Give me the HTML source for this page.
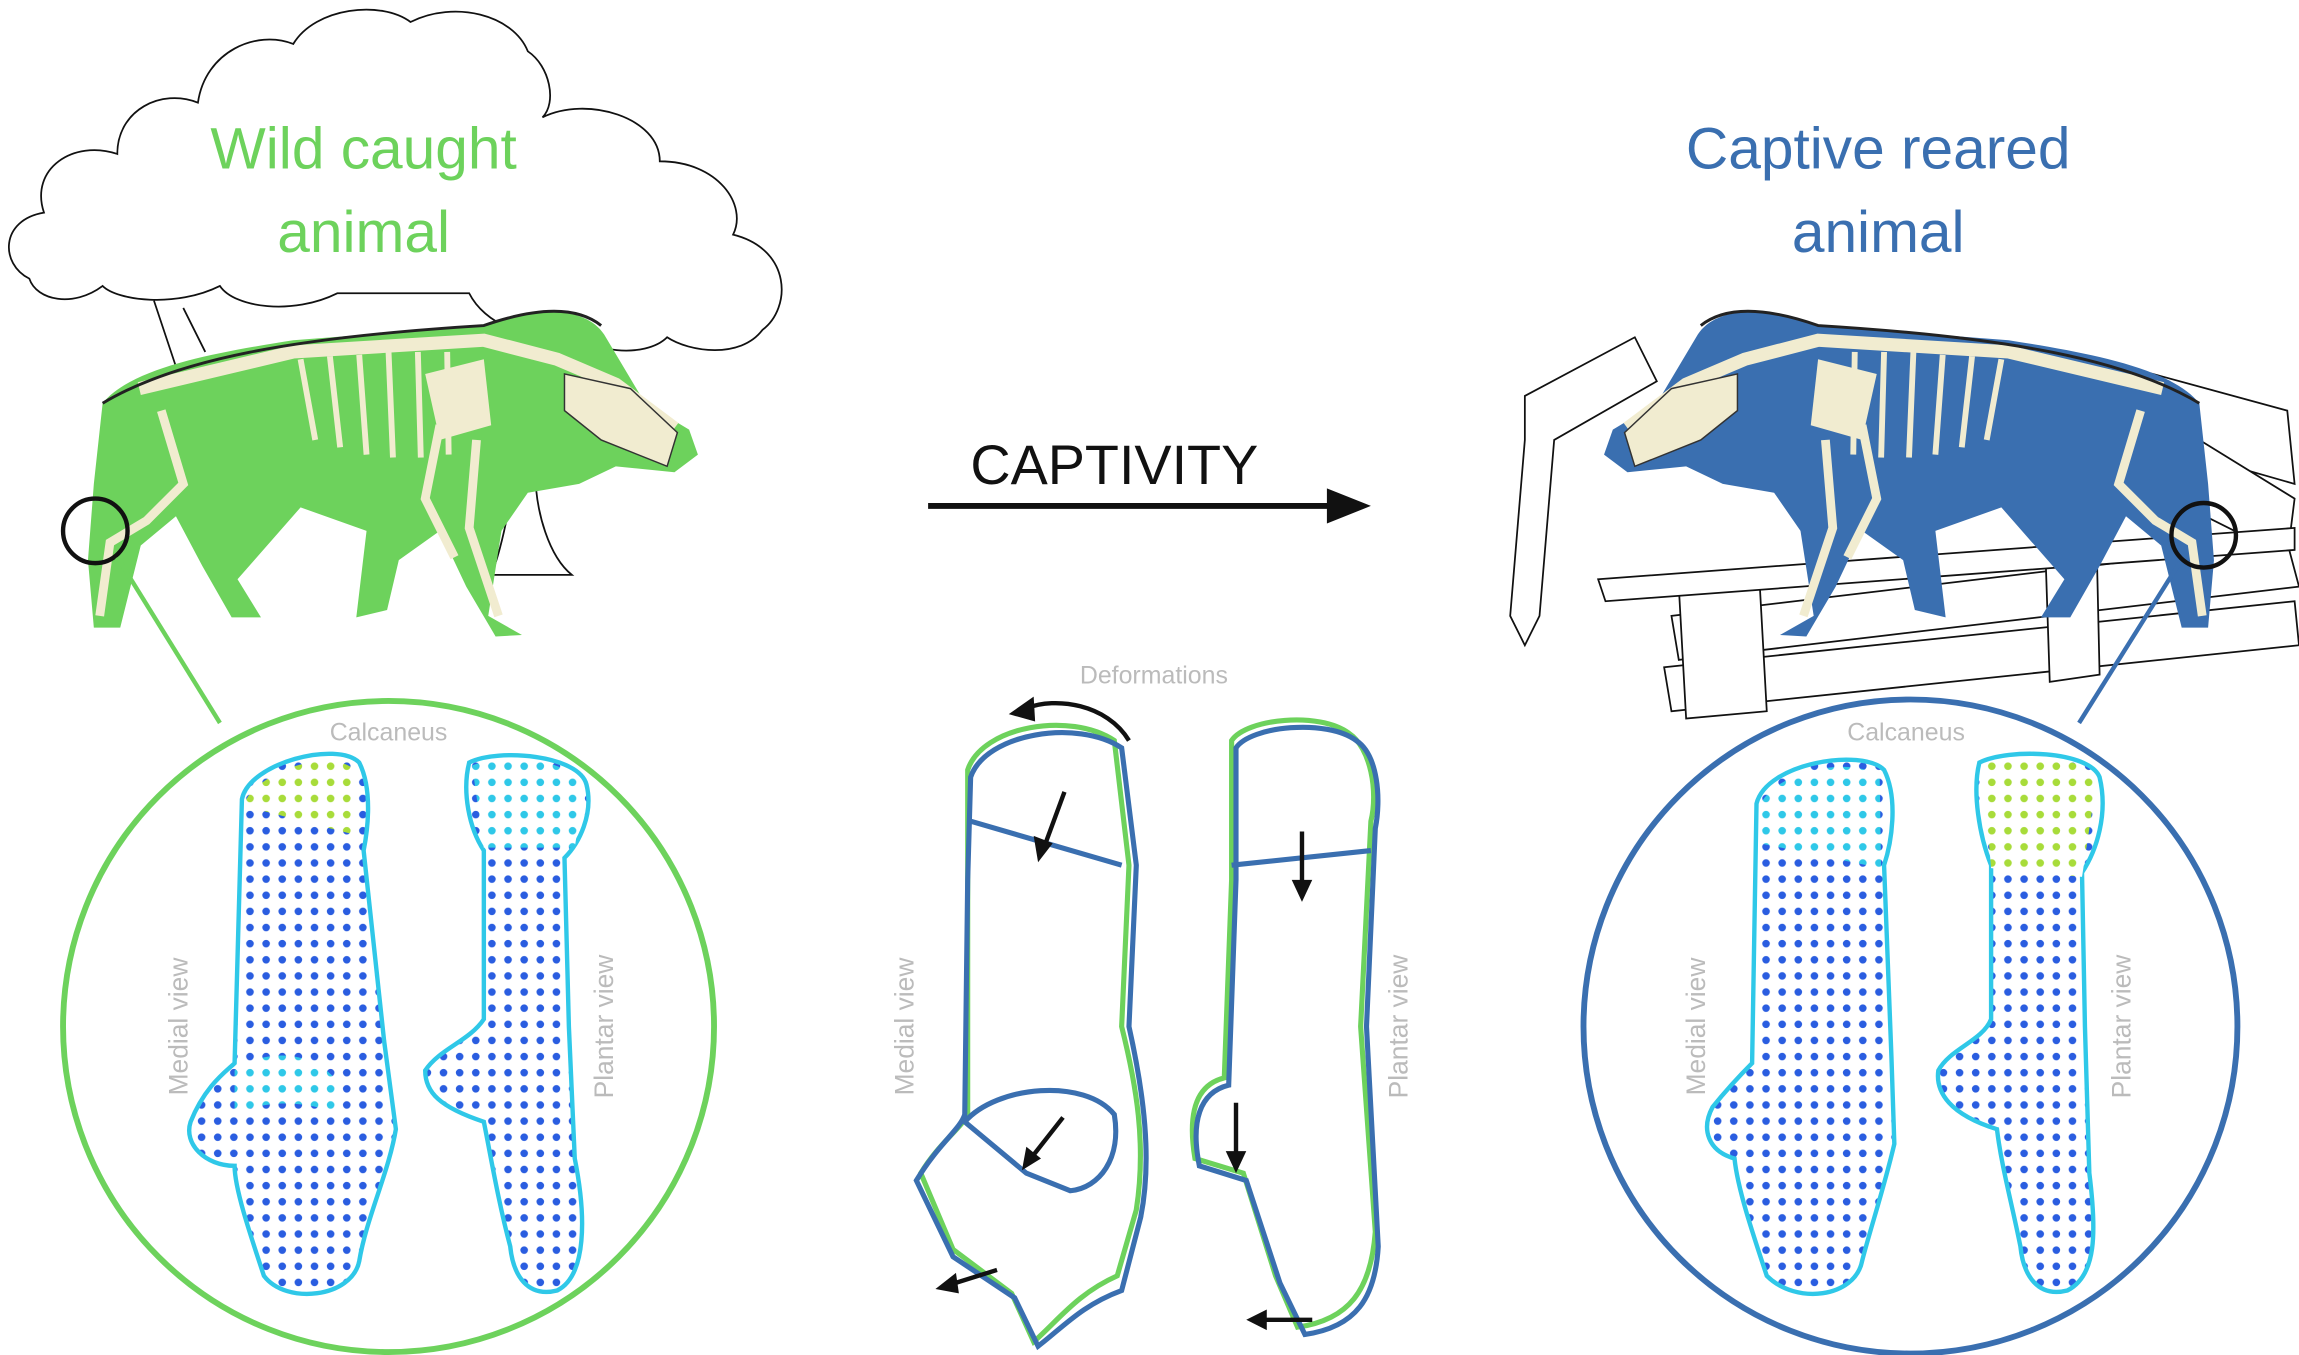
<!DOCTYPE html>
<html><head><meta charset="utf-8"><style>
html,body{margin:0;padding:0;background:#fff;}
svg{display:block}
text{font-family:"Liberation Sans",sans-serif}
</style></head><body>
<svg width="2299" height="1355" viewBox="0 0 1568 924" preserveAspectRatio="none" xmlns="http://www.w3.org/2000/svg">
<defs>
<pattern id="dots" width="11" height="11" patternUnits="userSpaceOnUse">
<rect width="11" height="11" fill="#fff"/>
<circle cx="5.5" cy="5.5" r="2.6" fill="#2a5de0"/>
</pattern>
<pattern id="dots2" width="11" height="11" patternUnits="userSpaceOnUse">
<rect width="11" height="11" fill="#fff"/>
<circle cx="5.5" cy="5.5" r="2.6" fill="#2fc8e8"/>
</pattern>
<pattern id="dots3" width="11" height="11" patternUnits="userSpaceOnUse">
<rect width="11" height="11" fill="#fff"/>
<circle cx="5.5" cy="5.5" r="2.6" fill="#a8dc3a"/>
</pattern>
<g id="boar">
<path d="M70,275 C90,250 150,240 200,232 L330,222 C370,208 400,210 412,228 L440,275 L470,293 L476,310 L460,322 L420,318 L395,330 L360,336 L342,362 L333,420 L356,433 L338,434 L318,400 L300,362 L272,382 L264,416 L243,421 L250,362 L205,346 L162,395 L178,421 L158,421 L138,386 L120,352 L96,372 L82,428 L64,428 L60,382 L64,330 Z"/>
<path d="M95,265 L200,240 L330,232 L380,245 L420,262 L460,292" fill="none" stroke="#f1ecd0" stroke-width="9"/>
<path d="M205,245 L215,300 M225,243 L232,305 M245,242 L250,310 M265,240 L268,312 M285,240 L287,312 M305,240 L306,310" stroke="#f1ecd0" stroke-width="4"/>
<path d="M385,255 L430,265 L462,295 L455,318 L410,300 L385,280 Z" fill="#f1ecd0" stroke="#333"/>
<path d="M290,255 L330,245 L335,290 L300,300 Z" fill="#f1ecd0"/>
<path d="M110,280 L125,330 L100,355 L75,370 L68,420 M325,300 L320,360 L340,420 M300,290 L290,340 L310,380" fill="none" stroke="#f1ecd0" stroke-width="6"/>
<path d="M70,275 C120,245 200,230 330,222 C370,208 395,210 410,222" fill="none" stroke="#222" stroke-width="2"/>
</g>
</defs>

<!-- tree -->
<path d="M20,190 C0,180 0,150 30,145 C20,115 50,95 80,105 C80,75 110,60 135,70 C140,35 175,20 200,30 C215,5 260,0 280,15 C310,0 350,10 360,35 C375,45 380,70 370,80 C400,65 450,80 450,110 C490,110 510,140 500,160 C540,170 540,210 520,225 C505,245 470,240 455,230 C440,245 400,240 390,225 C360,235 330,220 320,200 L230,200 C200,215 160,210 150,195 C120,210 80,205 70,195 C50,210 25,205 20,190 Z" fill="#fff" stroke="#111" stroke-width="1.2"/>
<path d="M105,205 L120,250 M125,210 L140,240 M350,330 C345,360 340,380 335,392 L390,392 C375,380 365,350 365,320" fill="none" stroke="#111" stroke-width="1.2"/>

<text x="248" y="115" font-size="40" fill="#6dd25c" text-anchor="middle">Wild caught</text>
<text x="248" y="172" font-size="40" fill="#6dd25c" text-anchor="middle">animal</text>
<use href="#boar" fill="#6dd25c"/>
<circle cx="65" cy="362" r="22" fill="none" stroke="#111" stroke-width="3"/>
<line x1="80" y1="380" x2="150" y2="493" stroke="#6dd25c" stroke-width="3"/>
<circle cx="265" cy="700" r="222" fill="none" stroke="#6dd25c" stroke-width="4"/>

<!-- left bones -->
<path d="M165,545 C170,520 230,505 245,520 C255,540 250,570 248,580 L262,710 L270,770 C265,800 250,830 245,860 C240,885 195,890 180,870 C170,840 160,810 160,795 C140,795 125,780 130,765 C140,740 155,730 160,725 Z" fill="url(#dots)" stroke="#2fc8e8" stroke-width="3"/>
<path d="M168,545 C180,525 225,510 242,525 L245,570 L168,550 Z" fill="url(#dots3)"/>
<path d="M160,730 C180,715 215,715 232,740 L230,760 C210,750 180,750 160,760 Z" fill="url(#dots2)"/>
<path d="M320,520 C340,510 395,515 400,535 C405,555 395,575 385,585 L388,700 L392,790 C400,830 400,870 380,880 C360,885 350,870 348,850 C340,820 335,790 330,765 C300,755 290,745 290,730 C300,715 320,710 330,695 L330,580 C320,565 315,540 320,520 Z" fill="url(#dots)" stroke="#2fc8e8" stroke-width="3"/>
<path d="M322,522 C345,512 392,518 398,538 L392,578 L330,578 Z" fill="url(#dots2)"/>
<text x="265" y="505" font-size="17" fill="#bbb" text-anchor="middle">Calcaneus</text>
<text transform="translate(128,700) rotate(-90)" font-size="18" fill="#bbb" text-anchor="middle">Medial view</text>
<text transform="translate(418,700) rotate(-90)" font-size="18" fill="#bbb" text-anchor="middle">Plantar view</text>

<!-- middle -->
<text x="760" y="330" font-size="38" fill="#111" text-anchor="middle">CAPTIVITY</text>
<line x1="633" y1="345" x2="915" y2="345" stroke="#111" stroke-width="4"/>
<polygon points="935,345 905,333 905,357" fill="#111"/>
<text x="787" y="466" font-size="17" fill="#bbb" text-anchor="middle">Deformations</text>
<path d="M770,505 C755,480 720,475 700,483" fill="none" stroke="#111" stroke-width="3"/>
<polygon points="688,487 705,475 706,492" fill="#111"/>
<g fill="none" stroke-width="3.5">
<path d="M660,525 C670,495 730,485 760,505 L770,590 L765,700 C775,740 782,780 775,825 L762,870 C735,882 722,900 705,915 L690,882 L650,852 L628,800 C640,780 655,770 660,760 L660,600 Z" stroke="#6dd25c"/>
<path d="M662,530 C672,500 735,490 765,510 L775,590 L770,700 C780,745 786,790 778,830 L765,880 C738,890 725,905 708,918 L692,885 L650,857 L625,805 C640,780 655,770 658,760 L660,600 Z" stroke="#3a6fb0"/>
<path d="M662,560 L765,590 M658,765 C680,740 740,735 760,760 C765,790 750,810 730,812 L700,800 Z" stroke="#3a6fb0"/>
<path d="M840,505 C850,490 900,485 920,500 C935,510 940,540 935,560 L928,700 L938,840 C935,880 920,900 885,905 L870,870 L848,800 L815,790 C810,760 815,740 835,735 L840,600 Z" stroke="#6dd25c"/>
<path d="M843,510 C853,495 905,490 925,505 C940,515 942,545 938,565 L932,700 L940,850 C938,885 925,905 890,910 L873,875 L850,805 L818,795 C812,765 818,745 838,740 L843,600 Z" stroke="#3a6fb0"/>
<path d="M840,590 L935,580" stroke="#3a6fb0"/>
</g>
<g stroke="#111" stroke-width="3">
<line x1="726" y1="540" x2="712" y2="578"/><line x1="725" y1="762" x2="703" y2="790"/><line x1="680" y1="866" x2="648" y2="876"/>
<line x1="888" y1="567" x2="888" y2="605"/><line x1="843" y1="752" x2="843" y2="790"/><line x1="895" y1="900" x2="860" y2="900"/>
</g>
<g fill="#111">
<polygon points="708,588 705,570 718,575"/><polygon points="697,798 700,782 710,790"/><polygon points="638,879 652,868 654,882"/>
<polygon points="888,615 881,600 895,600"/><polygon points="843,800 836,785 850,785"/><polygon points="850,900 864,893 864,907"/>
</g>
<text transform="translate(623,700) rotate(-90)" font-size="18" fill="#bbb" text-anchor="middle">Medial view</text>
<text transform="translate(960,700) rotate(-90)" font-size="18" fill="#bbb" text-anchor="middle">Plantar view</text>

<!-- right -->
<text x="1281" y="115" font-size="40" fill="#3a6fb0" text-anchor="middle">Captive reared</text>
<text x="1281" y="172" font-size="40" fill="#3a6fb0" text-anchor="middle">animal</text>
<g fill="#fff" stroke="#111" stroke-width="1.2">
<path d="M1040,270 L1115,230 L1130,260 L1060,300 L1050,420 L1040,440 L1030,420 L1040,300 Z"/>
<path d="M1450,250 L1560,280 L1565,330 L1460,300 Z"/>
<path d="M1500,300 L1565,340 L1560,380 L1480,340 Z"/>
<path d="M1140,420 L1560,370 L1568,400 L1145,450 Z"/>
<path d="M1135,455 L1565,410 L1568,440 L1140,485 Z"/>
<path d="M1145,400 L1200,395 L1205,485 L1150,490 Z"/>
<path d="M1395,375 L1430,372 L1432,460 L1398,465 Z"/>
<path d="M1090,395 L1565,360 L1565,375 L1095,410 Z"/>
</g>
<use href="#boar" fill="#3a6fb0" transform="translate(1570,0) scale(-1,1)"/>
<circle cx="1503" cy="365" r="22" fill="none" stroke="#111" stroke-width="3"/>
<line x1="1487" y1="383" x2="1418" y2="493" stroke="#3a6fb0" stroke-width="3"/>
<circle cx="1303" cy="700" r="223" fill="none" stroke="#3a6fb0" stroke-width="4"/>
<path d="M1198,548 C1205,520 1270,510 1285,525 C1295,545 1290,575 1285,590 L1290,720 L1292,780 C1285,810 1275,840 1270,860 C1265,885 1225,890 1205,870 C1195,840 1185,810 1183,790 C1165,785 1160,770 1168,755 C1180,740 1190,730 1195,725 Z" fill="url(#dots)" stroke="#2fc8e8" stroke-width="3"/>
<path d="M1200,550 C1210,525 1265,515 1282,530 L1283,592 L1200,575 Z" fill="url(#dots2)"/>
<path d="M1350,520 C1370,510 1425,512 1432,530 C1438,555 1430,580 1420,595 L1422,700 L1425,800 C1430,840 1430,870 1410,880 C1390,885 1380,870 1378,850 C1372,820 1365,795 1362,770 C1330,760 1320,745 1322,730 C1330,715 1352,710 1358,695 L1358,590 C1350,570 1345,540 1350,520 Z" fill="url(#dots)" stroke="#2fc8e8" stroke-width="3"/>
<path d="M1352,522 C1372,512 1422,514 1430,532 L1420,598 L1358,592 Z" fill="url(#dots3)"/>
<text x="1300" y="505" font-size="17" fill="#bbb" text-anchor="middle">Calcaneus</text>
<text transform="translate(1163,700) rotate(-90)" font-size="18" fill="#bbb" text-anchor="middle">Medial view</text>
<text transform="translate(1453,700) rotate(-90)" font-size="18" fill="#bbb" text-anchor="middle">Plantar view</text>
</svg>
</body></html>
